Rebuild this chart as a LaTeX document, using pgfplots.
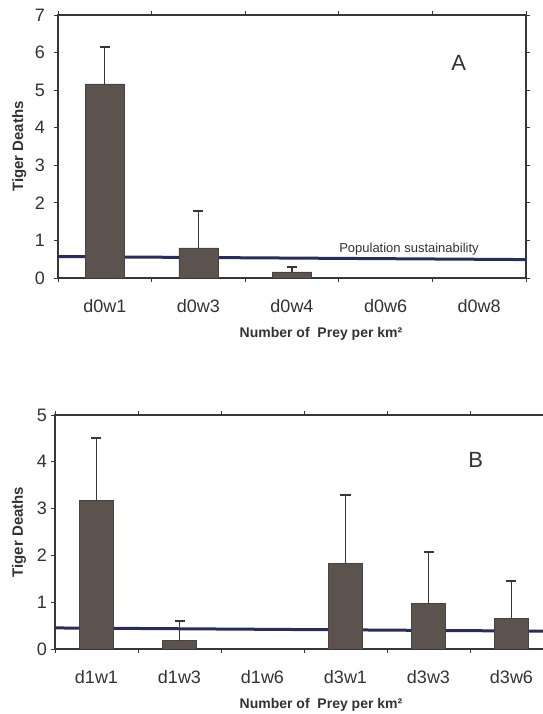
\documentclass[border=0pt]{standalone}
\usepackage{fontspec}
\setmainfont{Liberation Sans}
\usepackage{pgfplots}
\pgfplotsset{compat=1.18}

\definecolor{barfill}{RGB}{92,82,78}
\definecolor{sustain}{RGB}{40,45,92}
\definecolor{axisgray}{RGB}{55,55,55}
\definecolor{txt}{RGB}{50,50,50}

\pgfplotsset{
  tigerpanel/.style={
    scale only axis,
    anchor=south west,
    axis line style={axisgray, line width=1.1pt},
    tick align=outside,
    major tick length=4pt,
    tick style={axisgray, line width=0.8pt},
    /pgf/number format/assume math mode=true,
    tick label style={font=\fontsize{18}{18}\selectfont, text=txt},
    xticklabel style={anchor=center, inner sep=0pt, yshift=-28pt},
    xtick={-0.5,0.5,...,5.5},
    xticklabels={},
    extra x tick style={major tick length=0pt},
    ymin=0,
    ytick distance=1,
    xlabel={Number of\ \ Prey per km²},
    ylabel={Tiger Deaths},
    label style={font=\bfseries\fontsize{14}{14}\selectfont, text=txt},
    ylabel style={font=\bfseries\fontsize{15}{15}\selectfont, anchor=center},
    xlabel style={at={(axis description cs:0,0)}, anchor=center, yshift=-56pt},
  },
  bars/.style={ybar, bar width=#1, bar shift=0pt, fill=barfill, draw=barfill!80!black,
    error bars/.cd, y dir=plus, y explicit,
    error bar style={color=axisgray, line width=1.1pt},
    error mark options={color=axisgray, line width=2pt, mark size=5pt, rotate=90}},
  sline/.style={sharp plot, no marks, color=sustain, line width=3pt},
}

\begin{document}
\begin{tikzpicture}[x=1pt,y=1pt]
\useasboundingbox (0,0) rectangle (542,714);

% Panel A
\begin{axis}[tigerpanel,
  at={(58pt,436pt)}, width=468pt, height=263pt,
  xmin=-0.5, xmax=4.5, ymax=7,
  extra x ticks={0,1,2,3,4},
  extra x tick labels={d0w1,d0w3,d0w4,d0w6,d0w8},
  yticklabel style={anchor=east, inner sep=0pt, xshift=-9pt},
  ylabel style={at={(axis description cs:-0.083,0.5)}},
  xlabel style={xshift=263pt},
]
\addplot[sline] coordinates {(-0.5,0.57) (4.5,0.49)};
\addplot[bars=39pt] coordinates {
  (0,5.17) +- (0,0.97)
  (1,0.80) +- (0,0.98)
  (2,0.16) +- (0,0.13)
};
\node[font=\fontsize{13}{13}\selectfont, text=txt] at (axis cs:3.25,0.77) {Population sustainability};
\node[font=\fontsize{22}{22}\selectfont, text=txt] at (axis cs:3.78,5.72) {A};
\end{axis}

% Panel B
\begin{axis}[tigerpanel,
  at={(55pt,65pt)}, width=498pt, height=234pt,
  xmin=-0.5, xmax=5.5, ymax=5,
  extra x ticks={0,1,2,3,4,5},
  extra x tick labels={d1w1,d1w3,d1w6,d3w1,d3w3,d3w6},
  yticklabel style={anchor=east, inner sep=0pt, xshift=-4pt},
  ylabel style={at={(axis description cs:-0.072,0.5)}},
  xlabel style={xshift=266pt},
]
\addplot[sline] coordinates {(-0.5,0.45) (5.5,0.38)};
\addplot[bars=34pt] coordinates {
  (0,3.18) +- (0,1.33)
  (1,0.18) +- (0,0.41)
  (3,1.83) +- (0,1.45)
  (4,0.97) +- (0,1.10)
  (5,0.66) +- (0,0.79)
};
\node[font=\fontsize{22}{22}\selectfont, text=txt] at (axis cs:4.57,4.04) {B};
\end{axis}
\end{tikzpicture}
\end{document}
